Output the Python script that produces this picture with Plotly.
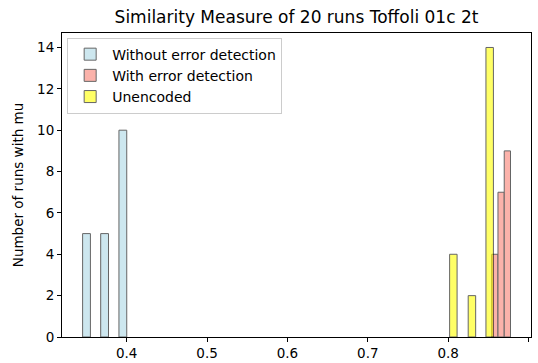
import plotly.graph_objects as go

# Histogram bin centres and counts for each configuration
without_ed_bins = [0.3500, 0.3725, 0.3952]
without_ed_counts = [5, 5, 10]

with_ed_bins = [0.8580, 0.8658, 0.8736]
with_ed_counts = [4, 7, 9]

unencoded_bins = [0.8064, 0.8295, 0.8516]
unencoded_counts = [4, 2, 14]

x_ticks = [0.4, 0.5, 0.6, 0.7, 0.8, 0.9]
y_ticks = [0, 2, 4, 6, 8, 10, 12, 14]

FONT = "DejaVu Sans"

series = [
    ("Without error detection", without_ed_bins, without_ed_counts, "#add8e6", 0.0097),
    ("With error detection", with_ed_bins, with_ed_counts, "#fa8072", 0.0078),
    ("Unencoded", unencoded_bins, unencoded_counts, "#ffff00", 0.0093),
]

fig = go.Figure()
for name, bins, counts, color, w in series:
    fig.add_trace(go.Bar(
        x=bins, y=counts, name=name,
        width=[w] * len(bins),
        marker=dict(color=color, line=dict(color="black", width=1)),
        opacity=0.6,
    ))

axis_common = dict(
    showline=True, linecolor="black", linewidth=1, mirror=True,
    ticks="outside", ticklen=4, tickcolor="black", tickwidth=1,
    showgrid=False, zeroline=False, automargin=False,
    tickfont=dict(family=FONT, size=13.5, color="black"),
)

fig.update_layout(
    width=538, height=363,
    margin=dict(l=62, r=7, t=33, b=26),
    plot_bgcolor="white", paper_bgcolor="white",
    barmode="overlay",
    font=dict(family=FONT, size=13.5, color="black"),
    title=dict(text="Similarity Measure of 20 runs Toffoli 01c 2t",
               x=0.5, xref="paper", xanchor="center",
               y=1 - 17 / 363, yanchor="middle",
               font=dict(family=FONT, size=17, color="black")),
    xaxis=dict(range=[0.3195, 0.903], tickvals=x_ticks,
               ticktext=[f"{v:.1f}" for v in x_ticks], **axis_common),
    yaxis=dict(range=[0, 14.7], tickvals=y_ticks,
               title=dict(text="Number of runs with mu", standoff=10,
                          font=dict(family=FONT, size=13.5, color="black")),
               **axis_common),
    legend=dict(x=0.011, y=0.985, xanchor="left", yanchor="top",
                bgcolor="rgba(255,255,255,0.8)", bordercolor="#cccccc",
                borderwidth=1, font=dict(family=FONT, size=14, color="black"),
                itemwidth=34, tracegroupgap=0),
    showlegend=True,
)

fig.write_html("out.html")
